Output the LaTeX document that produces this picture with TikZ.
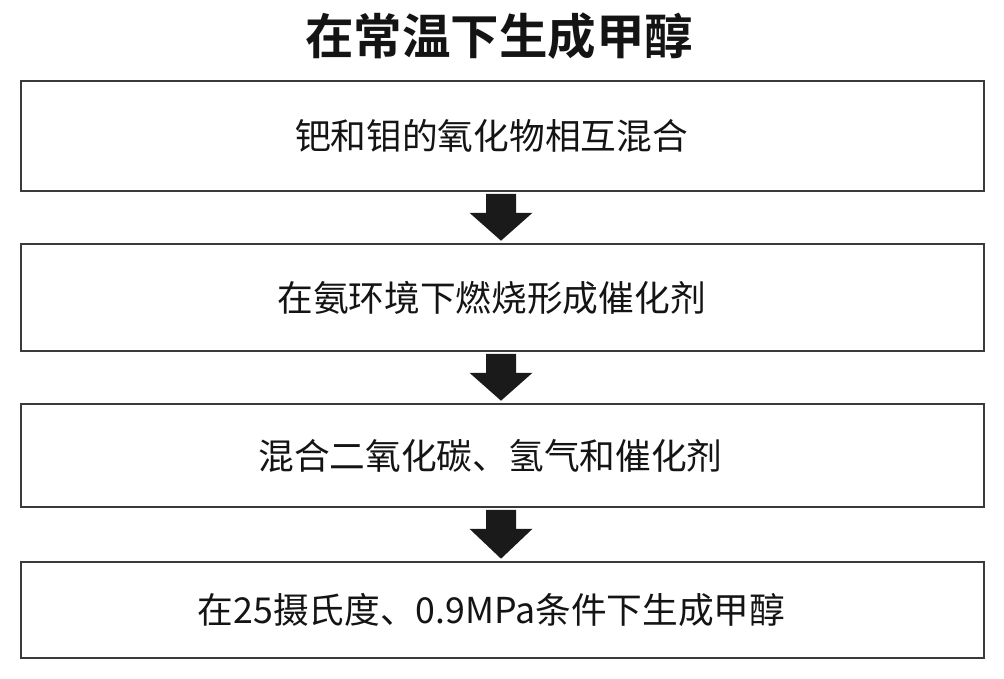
\documentclass[tikz,border=0pt]{standalone}
\usepackage{fontspec}
\usetikzlibrary{calc}
\newfontfamily\cjk{Noto Sans CJK SC}
\newfontfamily\cjkbold{Noto Sans CJK SC Bold}
\definecolor{boxline}{HTML}{3A3A3A}
\definecolor{arrowfill}{HTML}{1A1A1A}
\definecolor{txt}{HTML}{141414}
\tikzset{
  stepbox/.style={draw=boxline, line width=1.6pt, fill=white, minimum width=963pt, inner sep=0pt,
    font=\cjk\fontsize{35.7}{40}\selectfont, text=txt},
  blockarrow/.style={fill=arrowfill, draw=none},
  titletext/.style={font=\cjkbold\fontsize{48.5}{54}\selectfont, text=txt, inner sep=0pt}
}
\begin{document}
\begin{tikzpicture}[x=1pt,y=-1pt]
\useasboundingbox (0,0) rectangle (1004,679);
\fill[white] (0,0) rectangle (1004,679);
\node[titletext] (title) at (499,36.5) {在常温下生成甲醇};
\node[stepbox, minimum height=110pt] (b1) at (502.5,136) {\hspace*{-22pt}钯和钼的氧化物相互混合};
\node[stepbox, minimum height=107pt] (b2) at (502.5,297.5) {\hspace*{-22pt}在氨环境下燃烧形成催化剂};
\node[stepbox, minimum height=103pt] (b3) at (502.5,455.5) {\hspace*{-24pt}混合二氧化碳、氢气和催化剂};
\node[stepbox, minimum height=96pt] (b4) at (502.5,610) {\hspace*{-22pt}在25摄氏度、0.9MPa条件下生成甲醇};
\foreach \a/\b in {b1/b2, b2/b3, b3/b4}{
  \fill[blockarrow]
    ($(\a.south)+(-16.5,2)$) -- ($(\a.south)+(13.5,2)$) -- ($(\a.south)+(13.5,21)$) --
    ($(\a.south)+(30,21)$) -- ($(\b.north)+(-1.5,-2.5)$) -- ($(\a.south)+(-33,21)$) --
    ($(\a.south)+(-16.5,21)$) -- cycle;
}
\end{tikzpicture}
\end{document}
